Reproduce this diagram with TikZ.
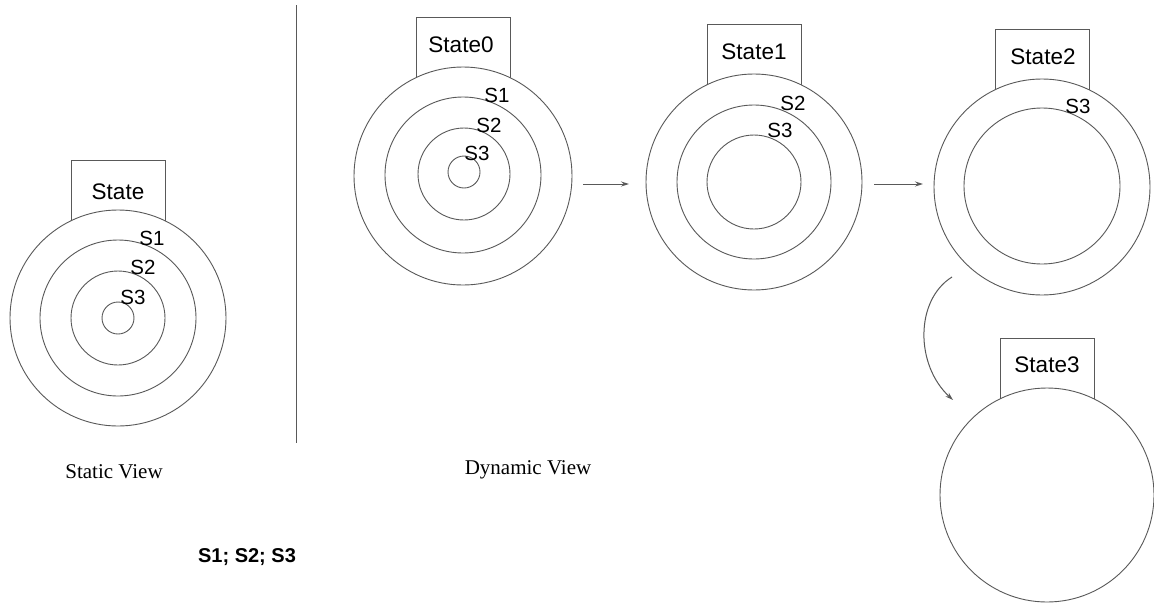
\documentclass[tikz,border=0pt]{standalone}
\usepackage{fontspec}
\setmainfont{Liberation Serif}
\setsansfont{Liberation Sans}
\usetikzlibrary{arrows.meta}
\definecolor{ln}{gray}{0.35}
\tikzset{
  ring/.style={circle, draw=ln, line width=0.9pt, fill=white, inner sep=0pt, minimum size=#1},
  sbox/.style={draw=ln, line width=0.9pt, inner sep=0pt, minimum width=94pt, minimum height=#1, anchor=north},
  boxtxt/.style={font=\sffamily\fontsize{22.5}{22.5}\selectfont, inner sep=0pt},
  slab/.style={font=\sffamily\fontsize{20.5}{20.5}\selectfont, inner sep=0pt},
  capt/.style={font=\rmfamily\fontsize{21}{21}\selectfont, inner sep=0pt},
  flow/.style={draw=ln, line width=1pt, -{Stealth[length=8pt,width=5pt]}},
}
\begin{document}
\begin{tikzpicture}[x=1pt,y=-1pt]
\useasboundingbox (0,0) rectangle (1154,603);
\fill[white] (0,0) rectangle (1154,603);

% divider
\coordinate (dtop) at (296,5);
\coordinate (dbot) at (296,443);
\draw[ln, line width=0.9pt] (dtop) -- (dbot);

% ---------- Static view ----------
\node[sbox=120pt] (bS) at (118,160) {};
\node[ring=216pt] (cS1) at (118,318) {};
\node[ring=156pt] (cS2) at (118,318) {};
\node[ring=94pt]  (cS3) at (118,318) {};
\node[ring=32pt]  (cS4) at (118,318) {};
\node[boxtxt] (tS) at (118,192) {State};
\node[slab] (lS1) at (152,238) {S1};
\node[slab] (lS2) at (143,267) {S2};
\node[slab] (lS3) at (133,297) {S3};

% ---------- State0 ----------
\node[sbox=120pt] (b0) at (463,17) {};
\node[ring=218pt] (c01) at (463,176) {};
\node[ring=156pt] (c02) at (463,175) {};
\node[ring=92pt]  (c03) at (464,174) {};
\node[ring=32pt]  (c04) at (464,172) {};
\node[boxtxt] (t0) at (461,45) {State0};
\node[slab] (l01) at (497,95) {S1};
\node[slab] (l02) at (489,125) {S2};
\node[slab] (l03) at (477,153) {S3};

% ---------- State1 ----------
\node[sbox=120pt] (b1) at (754,24) {};
\node[ring=216pt] (c11) at (754,182) {};
\node[ring=154pt] (c12) at (754,182) {};
\node[ring=94pt]  (c13) at (754,182) {};
\node[boxtxt] (t1) at (754,52) {State1};
\node[slab] (l12) at (793,103) {S2};
\node[slab] (l13) at (780,130) {S3};

% ---------- State2 ----------
\node[sbox=120pt] (b2) at (1042,29) {};
\node[ring=216pt] (c21) at (1042,187) {};
\node[ring=156pt] (c22) at (1042,186) {};
\node[boxtxt] (t2) at (1043,57) {State2};
\node[slab] (l23) at (1078,106) {S3};

% ---------- State3 ----------
\node[sbox=120pt] (b3) at (1047,338) {};
\node[ring=214pt] (c31) at (1047,495) {};
\node[boxtxt] (t3) at (1047,365) {State3};

% ---------- transitions ----------
\coordinate (a0s) at (583,184);
\coordinate (a0e) at (629,184);
\coordinate (a1s) at (874,184);
\coordinate (a1e) at (923,184);
\coordinate (a2s) at (952,277);
\coordinate (a2e) at (953,400);
\draw[flow] (a0s) -- (a0e);
\draw[flow] (a1s) -- (a1e);
\draw[flow] (a2s) .. controls (915,300) and (915,365) .. (a2e);

% ---------- captions ----------
\node[capt] (cap1) at (114,472) {Static View};
\node[capt] (cap2) at (528,470) {Dynamic View};
\node[font=\sffamily\bfseries\fontsize{20}{20}\selectfont, inner sep=0pt] (code) at (247,557) {S1; S2; S3};
\end{tikzpicture}
\end{document}
